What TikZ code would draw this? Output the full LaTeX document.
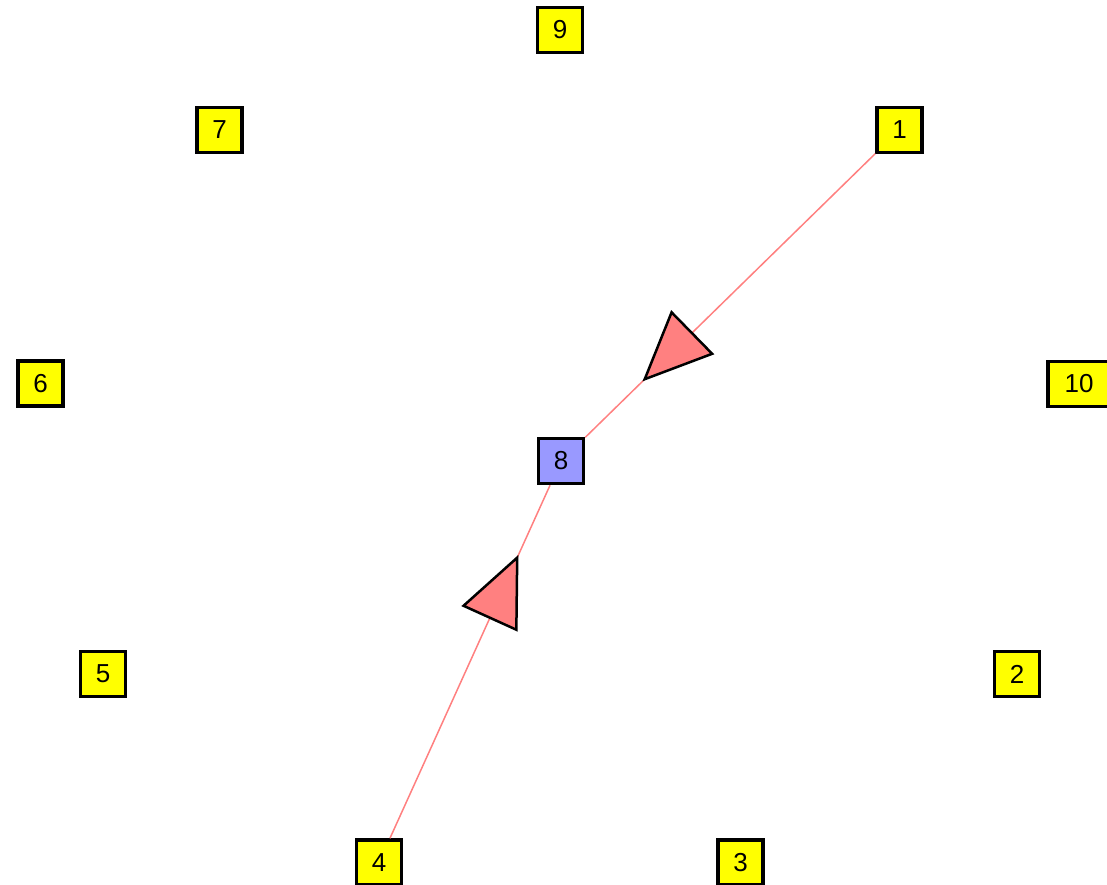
\documentclass[tikz,border=0pt]{standalone}
\usepackage{fontspec}
\setmainfont{Liberation Sans}
\usetikzlibrary{decorations.markings}
\definecolor{vtxyellow}{HTML}{FFFF00}
\definecolor{hubblue}{HTML}{9999FF}
\definecolor{edgepink}{HTML}{FF8080}

\begin{document}
\begin{tikzpicture}[x=1pt, y=-1pt,
    vtx/.style={draw, line width=3.5pt, fill=vtxyellow, inner sep=0pt,
                minimum size=45pt, font=\fontsize{26}{30}\selectfont},
    hub/.style={vtx, fill=hubblue},
    edge/.style={draw=edgepink, line width=1.5pt,
      postaction={decorate, decoration={markings,
        mark=at position 0.795 with {\draw[black, fill=edgepink, line width=2.5pt,
          line join=miter] (0,0) -- (-66,29) -- (-66,-29) -- cycle;}}}}
  ]
    \useasboundingbox (0,0) rectangle (1107,884);
    \node[vtx] (n9) at (560,30) {9};
    \node[vtx] (n7) at (219.5,130) {7};
    \node[vtx] (n1) at (899.5,130) {1};
    \node[vtx] (n6) at (40.5,383.5) {6};
    \node[vtx, minimum width=62pt] (n10) at (1079,384) {10};
    \node[hub] (n8) at (561,461) {8};
    \node[vtx] (n5) at (103,674) {5};
    \node[vtx] (n2) at (1017,674) {2};
    \node[vtx] (n4) at (379,862.5) {4};
    \node[vtx] (n3) at (740.5,862.5) {3};
    \draw[edge] (n1) -- (n8);
    \draw[edge] (n4) -- (n8);
  \end{tikzpicture}
\end{document}
